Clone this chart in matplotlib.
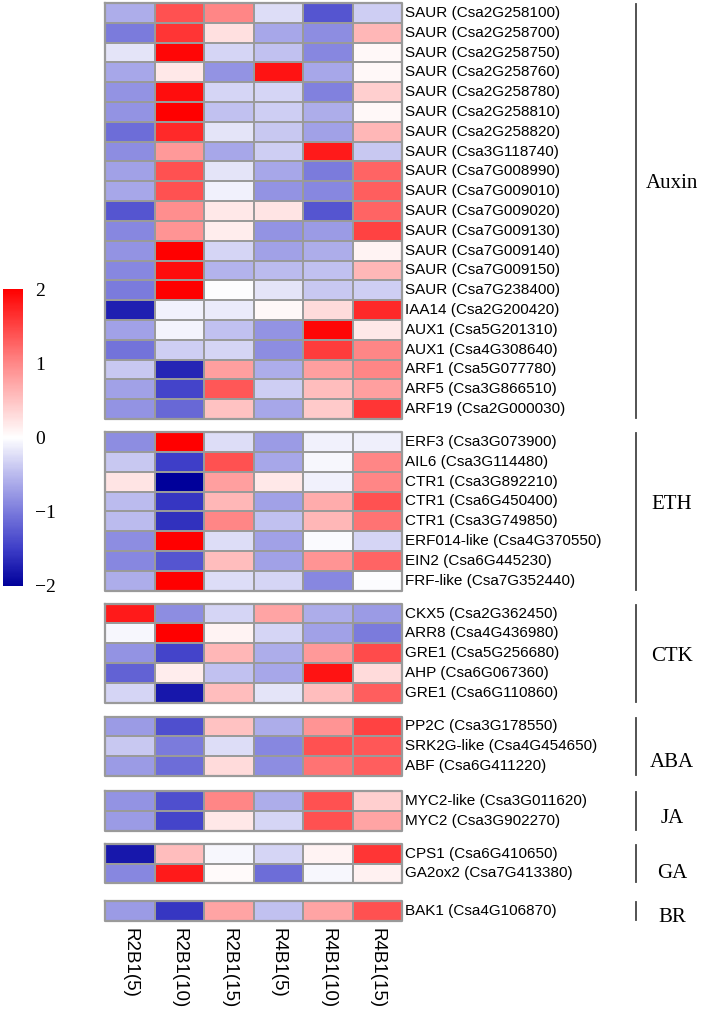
import numpy as np
import matplotlib
matplotlib.use("Agg")
import matplotlib.pyplot as plt
from matplotlib.colors import LinearSegmentedColormap

samples = ["R2B1(5)", "R2B1(10)", "R2B1(15)", "R4B1(5)", "R4B1(10)", "R4B1(15)"]

groups = ["Auxin", "ETH", "CTK", "ABA", "JA", "GA", "BR"]

auxin_genes = ["SAUR (Csa2G258100)", "SAUR (Csa2G258700)", "SAUR (Csa2G258750)",
               "SAUR (Csa2G258760)", "SAUR (Csa2G258780)", "SAUR (Csa2G258810)",
               "SAUR (Csa2G258820)", "SAUR (Csa3G118740)", "SAUR (Csa7G008990)",
               "SAUR (Csa7G009010)", "SAUR (Csa7G009020)", "SAUR (Csa7G009130)",
               "SAUR (Csa7G009140)", "SAUR (Csa7G009150)", "SAUR (Csa7G238400)",
               "IAA14 (Csa2G200420)", "AUX1 (Csa5G201310)", "AUX1 (Csa4G308640)",
               "ARF1 (Csa5G077780)", "ARF5 (Csa3G866510)", "ARF19 (Csa2G000030)"]
auxin_vals = [
    [-0.6, 1.4, 1.0, -0.25, -1.3, -0.35],
    [-1.0, 1.6, 0.25, -0.65, -0.85, 0.6],
    [-0.2, 1.95, -0.3, -0.45, -0.9, 0.05],
    [-0.65, 0.2, -0.8, 1.85, -0.65, 0.05],
    [-0.8, 1.9, -0.3, -0.3, -0.95, 0.4],
    [-0.8, 2.0, -0.45, -0.35, -0.6, 0.05],
    [-1.1, 1.7, -0.2, -0.4, -0.7, 0.6],
    [-0.85, 0.85, -0.65, -0.35, 1.8, -0.4],
    [-0.7, 1.4, -0.2, -0.65, -1.0, 1.25],
    [-0.65, 1.4, -0.1, -0.8, -0.9, 1.3],
    [-1.3, 0.95, 0.2, 0.22, -1.3, 1.25],
    [-0.9, 0.9, 0.15, -0.8, -0.75, 1.5],
    [-0.8, 2.0, -0.3, -0.7, -0.6, 0.1],
    [-0.9, 1.9, -0.55, -0.5, -0.45, 0.6],
    [-1.0, 2.0, -0.03, -0.2, -0.4, -0.35],
    [-1.75, -0.1, -0.15, 0.05, 0.3, 1.7],
    [-0.7, -0.08, -0.45, -0.8, 1.95, 0.2],
    [-1.05, -0.35, -0.3, -0.85, 1.55, 1.0],
    [-0.4, -1.7, 0.8, -0.6, 0.8, 1.0],
    [-0.7, -1.45, 1.35, -0.35, 0.55, 0.8],
    [-0.8, -1.15, 0.5, -0.65, 0.45, 1.6],
]

eth_genes = ["ERF3 (Csa3G073900)", "AIL6 (Csa3G114480)", "CTR1 (Csa3G892210)",
             "CTR1 (Csa6G450400)", "CTR1 (Csa3G749850)", "ERF014-like (Csa4G370550)",
             "EIN2 (Csa6G445230)", "FRF-like (Csa7G352440)"]
eth_vals = [
    [-0.85, 2.0, -0.25, -0.75, -0.1, -0.12],
    [-0.4, -1.5, 1.4, -0.65, -0.05, 1.0],
    [0.22, -2.0, 0.8, 0.2, -0.1, 1.0],
    [-0.5, -1.55, 0.6, -0.7, 0.7, 1.4],
    [-0.5, -1.6, 1.0, -0.45, 0.6, 1.15],
    [-0.85, 2.0, -0.25, -0.7, -0.04, -0.3],
    [-0.9, -1.3, 0.55, -0.7, 0.9, 1.25],
    [-0.6, 2.0, -0.25, -0.3, -0.9, -0.02],
]

ctk_genes = ["CKX5 (Csa2G362450)", "ARR8 (Csa4G436980)", "GRE1 (Csa5G256680)",
             "AHP (Csa6G067360)", "GRE1 (Csa6G110860)"]
ctk_vals = [
    [1.8, -0.85, -0.3, 0.75, -0.6, -0.75],
    [-0.05, 2.0, 0.1, -0.3, -0.7, -1.0],
    [-0.8, -1.45, 0.6, -0.6, 0.85, 1.45],
    [-1.2, 0.15, -0.45, -0.65, 1.85, 0.3],
    [-0.3, -1.8, 0.55, -0.2, 0.55, 1.3],
]

aba_genes = ["PP2C (Csa3G178550)", "SRK2G-like (Csa4G454650)", "ABF (Csa6G411220)"]
aba_vals = [
    [-0.75, -1.35, 0.5, -0.6, 0.9, 1.5],
    [-0.4, -1.0, -0.25, -0.9, 1.4, 1.35],
    [-0.75, -1.1, 0.3, -0.85, 1.15, 1.3],
]

ja_genes = ["MYC2-like (Csa3G011620)", "MYC2 (Csa3G902270)"]
ja_vals = [
    [-0.8, -1.35, 1.0, -0.6, 1.4, 0.4],
    [-0.75, -1.45, 0.2, -0.3, 1.4, 0.75],
]

ga_genes = ["CPS1 (Csa6G410650)", "GA2ox2 (Csa7G413380)"]
ga_vals = [
    [-1.8, 0.55, -0.05, -0.3, 0.1, 1.6],
    [-0.9, 1.8, 0.04, -1.1, -0.05, 0.12],
]

br_genes = ["BAK1 (Csa4G106870)"]
br_vals = [
    [-0.75, -1.55, 0.75, -0.45, 0.75, 1.4],
]

gene_lists = [auxin_genes, eth_genes, ctk_genes, aba_genes, ja_genes, ga_genes, br_genes]
value_lists = [auxin_vals, eth_vals, ctk_vals, aba_vals, ja_vals, ga_vals, br_vals]

# layout (row units)
gaps_before = [0.0, 0.66, 0.66, 0.7, 0.76, 0.66, 0.9]
label_shift = [-1.4, -0.35, 0.15, 0.8, 0.4, 0.5, 0.3]

cmap = LinearSegmentedColormap.from_list(
    "bwr_custom",
    [(0.0, "#00009a"), (0.125, "#3e3ec8"), (0.25, "#7a7adc"), (0.375, "#babaee"),
     (0.5, "#ffffff"), (0.75, "#ff8888"), (1.0, "#ff0000")])

W, H = 708, 1015
fig = plt.figure(figsize=(W / 100, H / 100), dpi=100)

ax = fig.add_axes([105 / W, 1 - 921 / H, 297 / W, 918 / H])
total = sum(len(g) for g in gene_lists) + sum(gaps_before)
ax.set_xlim(0, 6)
ax.set_ylim(total, 0)
ax.axis("off")

sans = ["Liberation Sans", "DejaVu Sans"]
serif = ["Liberation Serif", "DejaVu Serif"]

offset = 0.0
for gi, (genes, vals) in enumerate(zip(gene_lists, value_lists)):
    offset += gaps_before[gi]
    n = len(genes)
    arr = np.array(vals)
    xe = np.arange(7)
    ye = offset + np.arange(n + 1)
    ax.pcolormesh(xe, ye, arr, cmap=cmap, vmin=-2, vmax=2,
                  edgecolors="#9a9a9a", linewidth=1.3)
    ax.plot([0, 6, 6, 0, 0], [offset, offset, offset + n, offset + n, offset],
            color="#9a9a9a", lw=1.6, clip_on=False)
    for ri, g in enumerate(genes):
        ax.text(6.06, offset + ri + 0.5, g, ha="left", va="center",
                fontsize=11, family=sans, clip_on=False)
    # group bracket line
    ax.plot([10.73, 10.73], [offset + 0.05, offset + n - 0.05], color="#444444",
            lw=1.3, clip_on=False)
    ax.text(11.45, offset + n / 2 + label_shift[gi], groups[gi], ha="center",
            va="center", fontsize=15, family=serif, clip_on=False)
    offset += n

for ci, s in enumerate(samples):
    ax.text(ci + 0.5, total + 0.35, s, rotation=-90, ha="center", va="top",
            fontsize=13.5, family=sans, clip_on=False)

# colorbar
cax = fig.add_axes([3 / W, 1 - 586 / H, 20 / W, 297 / H])
sm = plt.cm.ScalarMappable(cmap=cmap, norm=plt.Normalize(-2, 2))
cb = fig.colorbar(sm, cax=cax, ticks=[-2, -1, 0, 1, 2])
cb.outline.set_visible(False)
cb.ax.tick_params(length=0, pad=9)
cb.ax.set_yticklabels(["\u22122", "\u22121", "0", "1", "2"], fontsize=14, family=serif)

fig.savefig("out.png", dpi=100)
